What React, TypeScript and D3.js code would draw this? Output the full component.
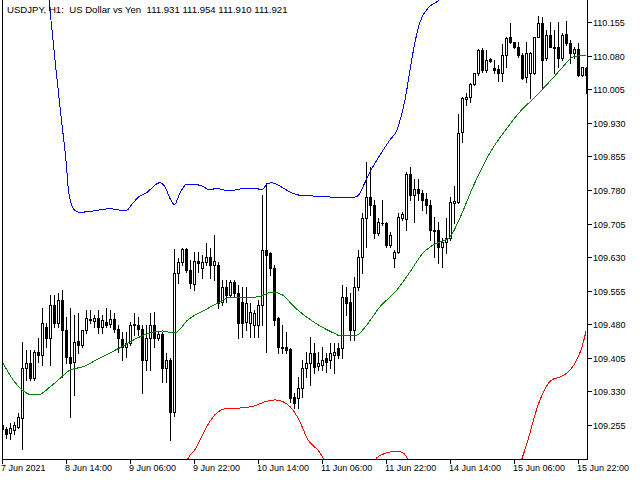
//@ts-nocheck
import { useEffect, useRef } from 'react';
import * as d3 from 'd3';

// hourly bars: open, high, low, close
const bars = [
    [109.256, 109.262, 109.242, 109.247], [109.247, 109.251, 109.227, 109.235], [109.238, 109.260, 109.224, 109.249],
    [109.244, 109.262, 109.235, 109.256], [109.251, 109.282, 109.249, 109.273], [109.271, 109.441, 109.202, 109.383],
    [109.383, 109.423, 109.356, 109.394], [109.394, 109.423, 109.356, 109.360], [109.360, 109.423, 109.356, 109.418],
    [109.418, 109.450, 109.396, 109.412], [109.412, 109.517, 109.389, 109.483], [109.474, 109.483, 109.430, 109.450],
    [109.450, 109.546, 109.389, 109.523], [109.523, 109.546, 109.474, 109.483], [109.483, 109.550, 109.474, 109.535],
    [109.535, 109.557, 109.363, 109.467], [109.467, 109.497, 109.394, 109.407], [109.407, 109.517, 109.273, 109.394],
    [109.396, 109.501, 109.322, 109.441], [109.443, 109.505, 109.416, 109.434], [109.434, 109.467, 109.430, 109.467],
    [109.467, 109.512, 109.461, 109.494], [109.490, 109.512, 109.483, 109.492], [109.488, 109.501, 109.474, 109.494],
    [109.494, 109.512, 109.461, 109.474], [109.474, 109.501, 109.461, 109.490], [109.485, 109.517, 109.474, 109.479],
    [109.481, 109.512, 109.474, 109.492], [109.492, 109.505, 109.463, 109.470], [109.470, 109.479, 109.418, 109.450],
    [109.447, 109.463, 109.401, 109.430], [109.430, 109.463, 109.407, 109.439], [109.439, 109.485, 109.434, 109.479],
    [109.478, 109.505, 109.456, 109.480], [109.479, 109.497, 109.456, 109.470], [109.470, 109.479, 109.327, 109.401],
    [109.401, 109.479, 109.378, 109.450], [109.450, 109.505, 109.378, 109.479], [109.479, 109.508, 109.430, 109.450],
    [109.450, 109.463, 109.445, 109.459], [109.459, 109.463, 109.351, 109.383], [109.383, 109.416, 109.351, 109.401],
    [109.401, 109.405, 109.222, 109.285], [109.285, 109.648, 109.276, 109.595], [109.595, 109.628, 109.573, 109.619],
    [109.619, 109.651, 109.613, 109.648], [109.648, 109.651, 109.597, 109.601], [109.601, 109.624, 109.561, 109.573],
    [109.570, 109.642, 109.557, 109.622], [109.622, 109.642, 109.597, 109.617], [109.606, 109.635, 109.584, 109.619],
    [109.619, 109.662, 109.613, 109.631], [109.631, 109.651, 109.584, 109.613], [109.613, 109.680, 109.579, 109.622],
    [109.613, 109.619, 109.517, 109.528], [109.530, 109.579, 109.523, 109.564], [109.564, 109.579, 109.530, 109.546],
    [109.546, 109.579, 109.541, 109.575], [109.575, 109.579, 109.541, 109.550], [109.550, 109.568, 109.450, 109.483],
    [109.530, 109.564, 109.452, 109.483], [109.485, 109.564, 109.467, 109.528], [109.483, 109.528, 109.452, 109.508],
    [109.479, 109.512, 109.452, 109.505], [109.479, 109.535, 109.452, 109.523], [109.523, 109.769, 109.479, 109.646],
    [109.646, 109.796, 109.418, 109.635], [109.639, 109.642, 109.590, 109.606], [109.606, 109.613, 109.479, 109.490],
    [109.494, 109.497, 109.416, 109.430], [109.430, 109.479, 109.416, 109.427], [109.430, 109.463, 109.416, 109.423],
    [109.425, 109.427, 109.307, 109.316], [109.318, 109.327, 109.293, 109.305], [109.316, 109.363, 109.293, 109.338],
    [109.338, 109.401, 109.318, 109.383], [109.383, 109.418, 109.363, 109.394], [109.394, 109.452, 109.345, 109.416],
    [109.416, 109.439, 109.372, 109.385], [109.387, 109.418, 109.378, 109.394], [109.389, 109.430, 109.378, 109.401],
    [109.405, 109.416, 109.374, 109.396], [109.401, 109.439, 109.383, 109.416], [109.412, 109.439, 109.372, 109.418],
    [109.427, 109.439, 109.405, 109.412], [109.427, 109.568, 109.405, 109.541], [109.541, 109.564, 109.501, 109.528],
    [109.530, 109.550, 109.445, 109.467], [109.467, 109.586, 109.445, 109.564], [109.564, 109.646, 109.557, 109.631],
    [109.631, 109.729, 109.595, 109.718], [109.718, 109.843, 109.653, 109.764], [109.764, 109.831, 109.724, 109.747],
    [109.747, 109.758, 109.673, 109.684], [109.684, 109.718, 109.680, 109.709], [109.706, 109.758, 109.702, 109.707],
    [109.707, 109.709, 109.653, 109.657], [109.657, 109.686, 109.653, 109.680], [109.628, 109.646, 109.608, 109.642],
    [109.642, 109.729, 109.639, 109.720], [109.718, 109.731, 109.713, 109.727], [109.715, 109.820, 109.691, 109.816],
    [109.816, 109.831, 109.758, 109.769], [109.769, 109.805, 109.709, 109.782], [109.782, 109.805, 109.758, 109.773],
    [109.773, 109.780, 109.735, 109.758], [109.760, 109.773, 109.729, 109.747], [109.747, 109.758, 109.668, 109.691],
    [109.691, 109.720, 109.631, 109.689], [109.691, 109.709, 109.617, 109.653], [109.653, 109.673, 109.608, 109.664],
    [109.664, 109.718, 109.639, 109.673], [109.673, 109.764, 109.668, 109.753], [109.751, 109.789, 109.706, 109.755],
    [109.753, 109.950, 109.751, 109.907], [109.910, 109.988, 109.887, 109.985], [109.983, 109.997, 109.970, 109.988],
    [109.988, 110.019, 109.976, 110.017], [110.017, 110.041, 110.014, 110.041], [110.041, 110.095, 110.037, 110.093],
    [110.093, 110.097, 110.043, 110.048], [110.048, 110.093, 110.043, 110.070], [110.072, 110.075, 110.066, 110.068],
    [110.052, 110.070, 110.041, 110.048], [110.050, 110.059, 110.023, 110.041], [110.041, 110.106, 110.023, 110.081],
    [110.081, 110.122, 110.055, 110.119], [110.122, 110.153, 110.108, 110.110], [110.110, 110.110, 110.097, 110.099],
    [110.099, 110.110, 110.077, 110.081], [110.081, 110.086, 110.028, 110.030], [110.032, 110.110, 110.021, 110.086],
    [110.041, 110.088, 109.985, 110.086], [110.041, 110.122, 110.039, 110.122], [110.122, 110.168, 110.122, 110.153],
    [110.153, 110.166, 110.010, 110.070], [110.075, 110.137, 110.070, 110.126], [110.126, 110.155, 110.099, 110.099],
    [110.100, 110.137, 110.041, 110.098], [110.099, 110.155, 110.055, 110.075], [110.075, 110.131, 110.070, 110.126],
    [110.128, 110.157, 110.104, 110.108], [110.108, 110.115, 110.064, 110.086], [110.086, 110.099, 110.075, 110.095],
    [110.095, 110.108, 110.034, 110.037], [110.037, 110.055, 110.034, 110.055], [110.052, 110.055, 109.997, 110.037],
];

// envelope lines: [bar index, price]
const upperBand = [
    [9.5, 110.539], [11.75, 110.204], [12.5, 110.137], [13.25, 110.07], [14.75, 109.945], [16.2, 109.825],
    [16.6, 109.78], [17.4, 109.747], [18.25, 109.734], [19.5, 109.73], [22.75, 109.733], [27, 109.738],
    [29.5, 109.735], [31.2, 109.735], [32.4, 109.747], [34.1, 109.764], [36.2, 109.774], [37.8, 109.787],
    [39.3, 109.796], [40.75, 109.787], [42, 109.761], [43.1, 109.747], [44.5, 109.773], [46.2, 109.793],
    [47.8, 109.793], [49.9, 109.789], [52, 109.78], [53.7, 109.784], [55.3, 109.78], [57, 109.778],
    [59.5, 109.782], [63.25, 109.784], [65, 109.78], [66.25, 109.793], [67.5, 109.796], [69, 109.791],
    [70.75, 109.782], [72.5, 109.773], [74.5, 109.768], [77, 109.767], [79.5, 109.765], [83.25, 109.764],
    [88.25, 109.764], [89.5, 109.773], [90.25, 109.787], [92, 109.82], [94.5, 109.858], [97, 109.892],
    [98.75, 109.914], [100, 109.952], [100.75, 109.981], [102, 110.048], [103.25, 110.11], [104.5, 110.155],
    [106.5, 110.186], [109, 110.202], [112, 110.226], [117, 110.271],
];

const middleBand = [
    [0, 109.397], [2.75, 109.356], [4.9, 109.334], [7.75, 109.322], [9, 109.322], [12, 109.34], [15, 109.363],
    [17, 109.378], [20.25, 109.385], [24.5, 109.405], [27, 109.416], [30, 109.43], [34, 109.45], [38.25, 109.463],
    [40.25, 109.465], [42.5, 109.461], [43.25, 109.461], [46.5, 109.49], [50.75, 109.512], [54.5, 109.53],
    [56.5, 109.539], [64, 109.541], [67.5, 109.552], [70, 109.546], [73.25, 109.517], [78.25, 109.483],
    [83.25, 109.459], [84.5, 109.454], [88.75, 109.456], [90.25, 109.468], [94.5, 109.519], [98.75, 109.557],
    [102, 109.597], [105.25, 109.639], [107.75, 109.657], [110.75, 109.668], [112, 109.675], [114.5, 109.718],
    [117.75, 109.787], [122, 109.863], [126.25, 109.918], [128.75, 109.947], [133.75, 109.992], [137.75, 110.03],
    [140.25, 110.055], [142.75, 110.077], [146, 110.081],
];

const lowerBand = [
    [37, 108.865], [43.25, 109.043], [46.5, 109.18], [48.25, 109.2], [49.5, 109.222], [51.5, 109.256],
    [53.25, 109.278], [55.75, 109.291], [59.5, 109.293], [63.25, 109.298], [65.75, 109.307], [68.25, 109.311],
    [70.25, 109.307], [72, 109.296], [74, 109.271], [76.5, 109.222], [79.5, 109.193], [80.75, 109.173],
    [84.5, 109.122], [88.25, 109.128], [92, 109.16], [93.75, 109.182], [96.25, 109.193], [98.75, 109.197],
    [100.25, 109.193], [101.25, 109.182], [103.25, 109.144], [109.5, 109.043], [117, 108.999], [124.5, 109.066],
    [130, 109.18], [131.5, 109.222], [133.25, 109.278], [134.5, 109.311], [136, 109.34], [137.5, 109.356],
    [139.5, 109.362], [141.25, 109.371], [143.25, 109.393], [145, 109.429], [146, 109.464],
];

const priceTicks = [110.155, 110.08, 110.005, 109.93, 109.855, 109.78, 109.705, 109.63, 109.555, 109.48, 109.405, 109.33, 109.255];
const timeTicks = [0, 16, 32, 48, 64, 80, 96, 112, 128, 144];
const timeLabels = ['7 Jun 2021', '8 Jun 14:00', '9 Jun 06:00', '9 Jun 22:00', '10 Jun 14:00', '11 Jun 06:00', '11 Jun 22:00', '14 Jun 14:00', '15 Jun 06:00', '15 Jun 22:00'];

const title = 'USDJPY, H1:  US Dollar vs Yen  111.931 111.954 111.910 111.921';

const CandleChart = () => {
    const svgRef = useRef();

    useEffect(() => {
        const svg = d3.select(svgRef.current);
        svg.selectAll('*').remove();

        const width = 640;
        const height = 480;
        const left = 2, right = 587, bottom = 459;
        const font = '"Liberation Sans", Arial, sans-serif';

        const x = d3.scaleLinear().domain([0, bars.length - 1]).range([2, 586]);
        const y = d3.scaleLinear().domain([109.255, 110.155]).range([425, 22]);
        const r = v => Math.round(v);

        svg.append('rect').attr('width', width).attr('height', height).attr('fill', '#fff');

        svg.append('clipPath').attr('id', 'plot-area')
            .append('rect')
            .attr('x', left + 1).attr('y', 0)
            .attr('width', right - left - 1).attr('height', bottom);

        const plot = svg.append('g')
            .attr('clip-path', 'url(#plot-area)')
            .attr('shape-rendering', 'crispEdges');

        // candles
        const candle = plot.selectAll('.bar')
            .data(bars)
            .enter()
            .append('g')
            .attr('class', 'bar');

        candle.append('rect')
            .attr('x', (d, i) => r(x(i)))
            .attr('y', d => r(y(d[1])))
            .attr('width', 1)
            .attr('height', d => r(y(d[2])) - r(y(d[1])) + 1)
            .attr('fill', '#000');

        candle.append('rect')
            .attr('x', (d, i) => r(x(i)) - 1)
            .attr('y', d => r(y(Math.max(d[0], d[3]))))
            .attr('width', 3)
            .attr('height', d => r(y(Math.min(d[0], d[3]))) - r(y(Math.max(d[0], d[3]))) + 1)
            .attr('fill', '#000');

        candle.filter(d => d[3] > d[0] && r(y(d[0])) - r(y(d[3])) >= 2)
            .append('rect')
            .attr('x', d => r(x(bars.indexOf(d))))
            .attr('y', d => r(y(d[3])) + 1)
            .attr('width', 1)
            .attr('height', d => r(y(d[0])) - r(y(d[3])) - 1)
            .attr('fill', '#fff');

        // indicator lines
        const line = d3.line()
            .x(d => x(d[0]))
            .y(d => y(d[1]))
            .curve(d3.curveMonotoneX);

        [[upperBand, '#0000ff'], [middleBand, '#008000'], [lowerBand, '#ff0000']].forEach(([pts, color]) => {
            plot.append('path')
                .attr('d', line(pts))
                .attr('fill', 'none')
                .attr('stroke', color)
                .attr('stroke-width', 1);
        });

        // frame
        const frame = svg.append('g').attr('stroke', '#000').attr('shape-rendering', 'crispEdges');
        frame.append('line').attr('x1', left + 0.5).attr('x2', left + 0.5).attr('y1', 0).attr('y2', bottom + 1);
        frame.append('line').attr('x1', right + 0.5).attr('x2', right + 0.5).attr('y1', 0).attr('y2', bottom + 1);
        frame.append('line').attr('x1', left).attr('x2', right + 1).attr('y1', bottom + 0.5).attr('y2', bottom + 0.5);

        // price axis
        priceTicks.forEach(t => {
            const py = r(y(t));
            frame.append('line').attr('x1', right + 1).attr('x2', right + 5).attr('y1', py + 0.5).attr('y2', py + 0.5);
            svg.append('text')
                .attr('x', right + 6)
                .attr('y', py + 0.5)
                .attr('dy', '0.35em')
                .style('font-family', font)
                .style('font-size', '9px')
                .attr('fill', '#000')
                .text(t.toFixed(3));
        });

        // time axis
        timeTicks.forEach((t, i) => {
            const px = r(x(t));
            frame.append('line').attr('x1', px + 0.5).attr('x2', px + 0.5).attr('y1', bottom + 1).attr('y2', bottom + 5);
            svg.append('text')
                .attr('x', px - 1)
                .attr('y', 471)
                .style('font-family', font)
                .style('font-size', '9px')
                .attr('fill', '#000')
                .text(timeLabels[i]);
        });

        svg.append('text')
            .attr('x', 7)
            .attr('y', 13)
            .style('font-family', font)
            .style('font-size', '9.6px')
            .style('white-space', 'pre')
            .attr('fill', '#000')
            .text(title);
    }, []);

    return (
        <svg ref={svgRef} width={640} height={480} style={{ position: 'absolute', left: 0, top: 0, display: 'block' }}></svg>
    );
};

export default function App() {
    return <CandleChart />;
}
